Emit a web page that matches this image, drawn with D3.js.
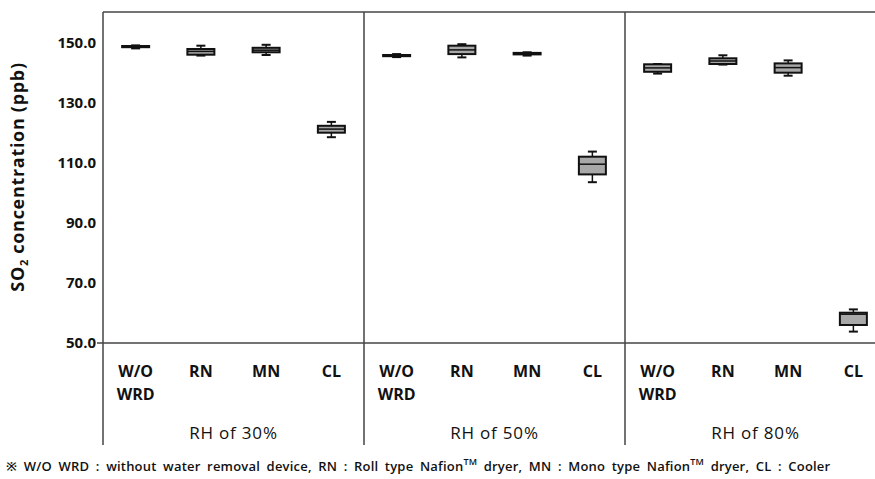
<!DOCTYPE html>
<html>
<head>
<meta charset="utf-8">
<script src="https://cdn.jsdelivr.net/npm/d3@7/dist/d3.min.js"></script>
<style>
  html, body { margin: 0; padding: 0; background: #fff; overflow: hidden; }
  svg { display: block; font-family: "Open Sans", "Noto Sans", sans-serif; }
</style>
</head>
<body>
<svg id="chart" width="875" height="479"></svg>
<script>
// Relative-humidity groups and the water removal devices tested in each
const humidities = ["RH of 30%", "RH of 50%", "RH of 80%"];
const devices = ["W/O WRD", "RN", "MN", "CL"];

// Five-number summaries of SO2 concentration (ppb), ordered humidity by humidity, device by device
const mins    = [148.2, 145.8, 146.0, 118.6,  145.3, 145.2, 145.8, 103.6,  139.8, 142.8, 139.1, 53.8];
const q1s     = [148.6, 146.1, 146.9, 120.1,  145.6, 146.3, 146.2, 106.2,  140.4, 143.0, 140.1, 56.0];
const medians = [148.8, 147.2, 147.6, 121.3,  145.8, 147.7, 146.4, 109.6,  141.7, 144.0, 141.8, 59.6];
const q3s     = [149.0, 148.0, 148.4, 122.4,  146.0, 149.1, 146.7, 112.1,  142.9, 144.9, 143.2, 60.1];
const maxs    = [149.2, 149.1, 149.4, 123.7,  146.3, 149.6, 146.9, 113.8,  143.0, 145.9, 144.2, 61.2];

const yTicks = [50, 70, 90, 110, 130, 150];

const rows = [];
humidities.forEach((h, gi) => devices.forEach((d, di) => {
  const i = gi * devices.length + di;
  rows.push({ group: h, device: d, min: mins[i], q1: q1s[i], med: medians[i], q3: q3s[i], max: maxs[i] });
}));

const svg = d3.select("#chart");
const plotLeft = 103, plotTop = 12, plotBottom = 343, plotRight = 886, catBottom = 445;
const frame = "#444";

const y = d3.scaleLinear().domain([50, 160.33]).range([plotBottom, plotTop]);
const xGroup = d3.scaleBand().domain(humidities).range([plotLeft, plotRight]);
const xDev = d3.scaleBand().domain(devices).range([0, xGroup.bandwidth()]);

// Plot frame: top edge, baseline and panel dividers
svg.append("line").attr("x1", plotLeft).attr("x2", plotRight).attr("y1", plotTop).attr("y2", plotTop)
  .attr("stroke", frame).attr("stroke-width", 1.5);
svg.append("line").attr("x1", plotLeft - 6).attr("x2", plotRight).attr("y1", plotBottom).attr("y2", plotBottom)
  .attr("stroke", frame).attr("stroke-width", 1.5);
humidities.forEach(h => {
  svg.append("line").attr("x1", xGroup(h)).attr("x2", xGroup(h)).attr("y1", plotTop).attr("y2", catBottom)
    .attr("stroke", frame).attr("stroke-width", 1.5);
});

// Y axis labels
const yAxis = d3.axisLeft(y).tickValues(yTicks).tickFormat(d3.format(".1f")).tickSize(0).tickPadding(7);
const ya = svg.append("g").attr("transform", `translate(${plotLeft},0)`).call(yAxis);
ya.select(".domain").remove();
ya.selectAll("text").attr("font-size", 15).attr("font-weight", "bold").attr("fill", "#111")
  .attr("font-family", "\"Open Sans\", \"Noto Sans\", sans-serif");

// Y axis title with subscript
const yt = svg.append("text").attr("transform", `translate(24,177) rotate(-90)`)
  .attr("text-anchor", "middle").attr("font-size", 18).attr("font-weight", "bold").attr("fill", "#111")
  .attr("letter-spacing", 0.7);
yt.append("tspan").text("SO");
yt.append("tspan").text("2").attr("font-size", 11).attr("dy", 4);
yt.append("tspan").text(" concentration (ppb)").attr("dy", -4);

// Device labels and humidity group labels
humidities.forEach(h => {
  devices.forEach(d => {
    const cx = xGroup(h) + xDev(d) + xDev.bandwidth() / 2;
    const t = svg.append("text").attr("x", cx).attr("y", 377).attr("text-anchor", "middle")
      .attr("font-size", 16).attr("font-weight", "bold").attr("fill", "#111");
    d.split(" ").forEach((part, k) => {
      t.append("tspan").attr("x", cx).attr("dy", k === 0 ? 0 : 23).text(part);
    });
  });
  svg.append("text").attr("x", xGroup(h) + xGroup.bandwidth() / 2).attr("y", 439)
    .attr("text-anchor", "middle").attr("font-size", 17).attr("letter-spacing", 0.8)
    .attr("fill", "#111").text(h);
});

// Box plots
const boxW = 27, capW = 9;
const g = svg.append("g").selectAll("g").data(rows).join("g")
  .attr("transform", r => `translate(${xGroup(r.group) + xDev(r.device) + xDev.bandwidth() / 2},0)`);
g.append("line").attr("x1", 0).attr("x2", 0).attr("y1", r => y(r.max)).attr("y2", r => y(r.min))
  .attr("stroke", "#111").attr("stroke-width", 1.5);
g.append("line").attr("x1", -capW / 2).attr("x2", capW / 2).attr("y1", r => y(r.max)).attr("y2", r => y(r.max))
  .attr("stroke", "#111").attr("stroke-width", 2);
g.append("line").attr("x1", -capW / 2).attr("x2", capW / 2).attr("y1", r => y(r.min)).attr("y2", r => y(r.min))
  .attr("stroke", "#111").attr("stroke-width", 2);
g.append("rect").attr("x", -boxW / 2).attr("width", boxW)
  .attr("y", r => y(r.q3)).attr("height", r => Math.max(0.5, y(r.q1) - y(r.q3)))
  .attr("fill", "#a8a8a8").attr("stroke", "#111").attr("stroke-width", 2);
g.append("line").attr("x1", -boxW / 2).attr("x2", boxW / 2).attr("y1", r => y(r.med)).attr("y2", r => y(r.med))
  .attr("stroke", "#111").attr("stroke-width", 1.5);

// Abbreviation footnote
const fn = svg.append("text").attr("x", 6).attr("y", 471).attr("font-size", 13).attr("font-weight", 600)
  .attr("fill", "#111").attr("letter-spacing", 0.2).attr("word-spacing", 3);
fn.append("tspan").text("※ W/O WRD : without water removal device, RN : Roll type Nafion");
fn.append("tspan").text("TM").attr("font-size", 9).attr("dy", -6);
fn.append("tspan").text(" dryer, MN : Mono type Nafion").attr("dy", 6);
fn.append("tspan").text("TM").attr("font-size", 9).attr("dy", -6);
fn.append("tspan").text(" dryer, CL : Cooler").attr("dy", 6);
</script>
</body>
</html>
